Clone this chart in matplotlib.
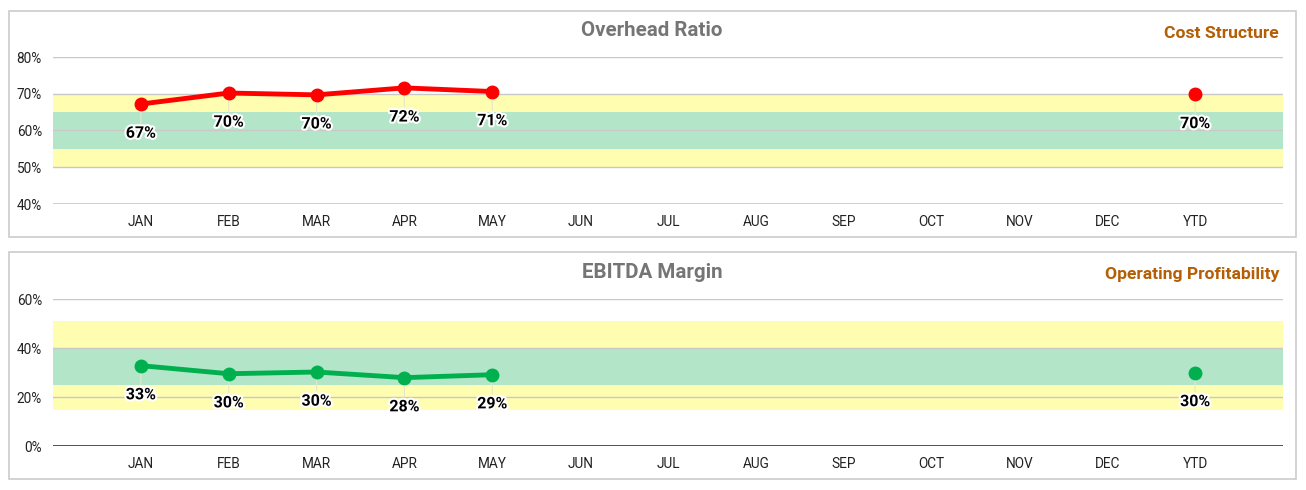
import matplotlib.pyplot as plt
from matplotlib.patches import Rectangle
import matplotlib.patheffects as pe

plt.rcParams['font.family'] = ['Roboto', 'DejaVu Sans']

months = ["JAN", "FEB", "MAR", "APR", "MAY", "JUN", "JUL", "AUG", "SEP", "OCT", "NOV", "DEC", "YTD"]

overhead = [67.2, 70.2, 69.7, 71.6, 70.6]
overhead_ytd = 69.8
overhead_labels = ["67%", "70%", "70%", "72%", "71%"]
overhead_ytd_label = "70%"

ebitda = [32.8, 29.5, 30.2, 27.9, 29.1]
ebitda_ytd = 30.0
ebitda_labels = ["33%", "30%", "30%", "28%", "29%"]
ebitda_ytd_label = "30%"

# target bands: (outer low, outer high), (inner low, inner high)
overhead_bands = [(50, 70), (55, 65)]
ebitda_bands = [(14.5, 51), (25, 40)]

W, H = 1306, 490
fig = plt.figure(figsize=(W / 100, H / 100), dpi=100)
fig.patch.set_facecolor("white")

# panel frames
for y0, y1 in [(11, 237), (252, 479)]:
    fig.add_artist(Rectangle((9 / W, 1 - y1 / H), (1296 - 9) / W, (y1 - y0) / H,
                             transform=fig.transFigure, fill=False,
                             edgecolor="#cccccc", lw=1.2))


def panel(rect, vals, labels, ytd, ytd_label, bands, color, ylim, yticks,
          title, subtitle, title_y, base_color):
    ax = fig.add_axes(rect)
    ax.set_xlim(-1, 13)
    ax.set_ylim(*ylim)
    ax.axhspan(*bands[0], color="#fffdb0", lw=0, zorder=0)
    ax.axhspan(*bands[1], color="#b3e6c9", lw=0, zorder=0.5)
    for t in yticks[1:]:
        ax.axhline(t, color="#c8c8c8", lw=1, zorder=1)
    ax.axhline(yticks[0], color=base_color, lw=1.2, zorder=1)
    ax.set_yticks(yticks)
    ax.set_yticklabels([f"{t}%" for t in yticks])
    ax.set_xticks(range(len(months)))
    ax.set_xticklabels(months)
    ax.tick_params(length=0, labelsize=9.8, colors="#222222")
    ax.tick_params(axis="x", pad=8)
    ax.tick_params(axis="y", pad=8)
    for s in ax.spines.values():
        s.set_visible(False)
    ax.patch.set_alpha(0)

    xs = list(range(len(vals)))
    ax.plot(xs, vals, color=color, lw=3.5, marker="o", ms=9, zorder=3,
            solid_capstyle="round")
    ax.plot([12], [ytd], color=color, marker="o", ms=9, zorder=3)
    for x, v, lab in zip(xs + [12], vals + [ytd], labels + [ytd_label]):
        ax.annotate(lab, xy=(x, v), xytext=(0, -21), textcoords="offset points",
                    ha="center", va="center", fontsize=11.5, fontweight="bold",
                    color="black", zorder=4,
                    arrowprops=dict(arrowstyle="-", color="#e6e6cc", lw=0.8,
                                    shrinkA=0, shrinkB=6),
                    path_effects=[pe.withStroke(linewidth=3, foreground="white")])

    fig.text(652 / W, 1 - title_y / H, title, ha="center", va="center",
             fontsize=14.8, fontweight="bold", color="#757575")
    fig.text(1279 / W, 1 - (title_y + 2) / H, subtitle, ha="right", va="center",
             fontsize=12.6, fontweight="bold", color="#b45f06")
    return ax


left = 53 / W
width = (1283 - 53) / W

panel([left, 1 - 204 / H, width, 147 / H], overhead, overhead_labels,
      overhead_ytd, overhead_ytd_label, overhead_bands, "#ff0000",
      (40, 80), [40, 50, 60, 70, 80], "Overhead Ratio", "Cost Structure",
      31, "#c8c8c8")

panel([left, 1 - 446 / H, width, 147 / H], ebitda, ebitda_labels,
      ebitda_ytd, ebitda_ytd_label, ebitda_bands, "#00b04f",
      (0, 60), [0, 20, 40, 60], "EBITDA Margin", "Operating Profitability",
      273, "#333333")

fig.savefig("out.png", dpi=100)
